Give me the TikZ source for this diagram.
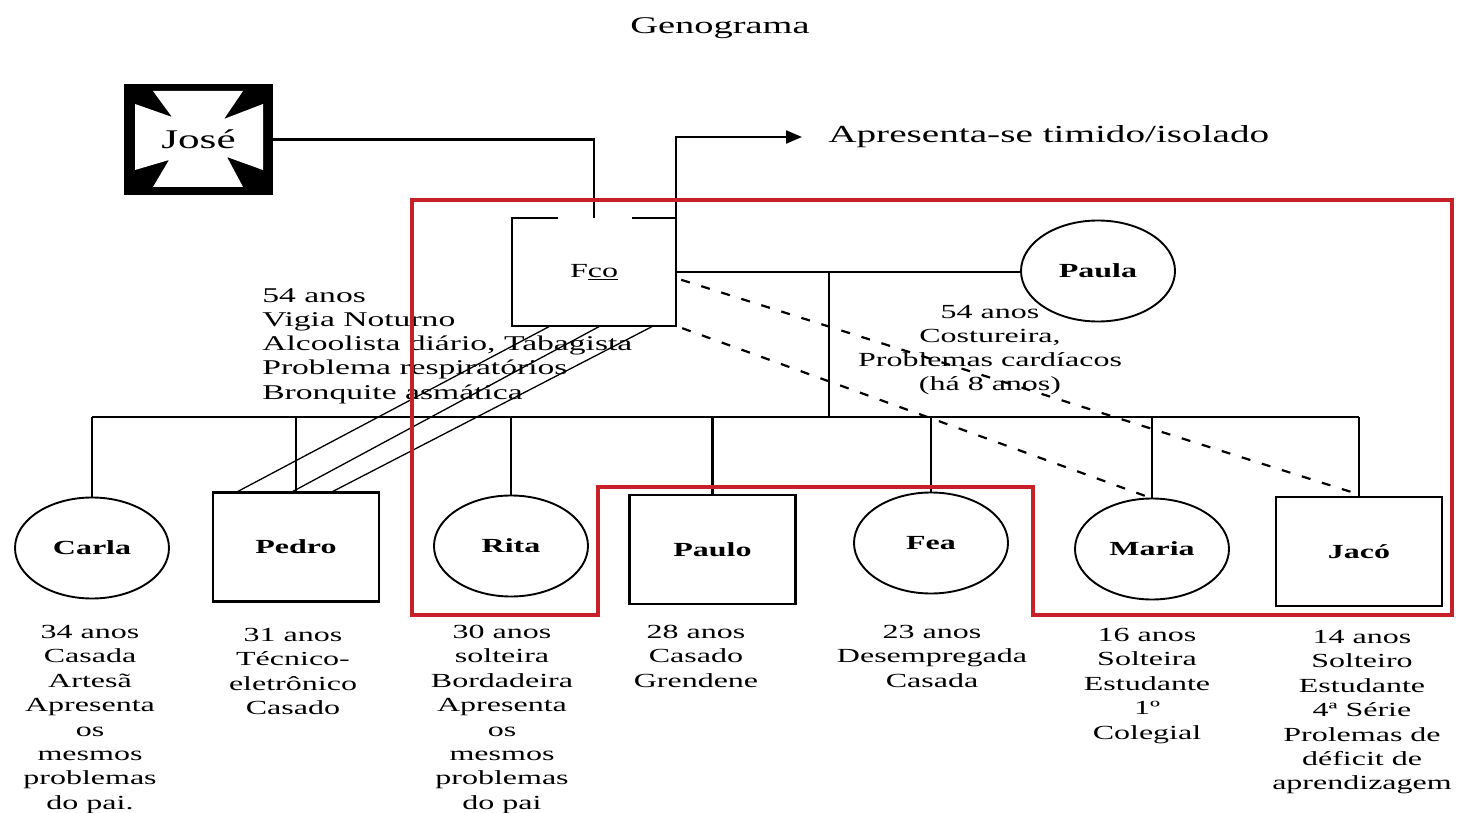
\documentclass[tikz,border=0pt]{standalone}
\usepackage{fontspec}
\setmainfont{Liberation Serif}
\usetikzlibrary{arrows.meta,calc,shapes.geometric}
\definecolor{framered}{RGB}{200,32,40}
\tikzset{
  x=1pt, y=-1pt,
  ln/.style={line width=2.2pt, black},
  thin link/.style={line width=1.3pt, black},
  distant/.style={line width=2.2pt, black, dash pattern=on 9pt off 12pt},
  fem/.style={ellipse, draw, line width=1.9pt, inner sep=0pt,
              minimum width=154pt, minimum height=101pt},
  male/.style={rectangle, draw, line width=2.2pt, inner sep=0pt,
               minimum width=166pt, minimum height=109pt},
  pname/.style={xscale=1.6, inner sep=0pt, font=\fontsize{20}{22}\bfseries\selectfont},
  info/.style={xscale=1.6, inner sep=0pt, align=center, anchor=north,
               font=\fontsize{20}{24.4}\selectfont},
  frame/.style={line width=3.4pt, framered, line join=miter}
}
\begin{document}
\begin{tikzpicture}
\useasboundingbox (0,0) rectangle (1457,813);

% title and note
\node[xscale=1.6, inner sep=0pt, font=\fontsize{24}{28}\selectfont] (title) at (720,28) {Genograma};
\node[xscale=1.6, inner sep=0pt, anchor=west, font=\fontsize{24.5}{28}\selectfont] (isol) at (828,137) {Apresenta-se timido/isolado};

% José (deceased grandfather)
\node[rectangle, fill=black, inner sep=0pt, minimum width=149pt, minimum height=111pt] (jose) at (198.5,139.5) {};
\fill[white] (153,91) -- (243,91) -- (224,119) -- (263,104) -- (263,170) -- (227,157)
  -- (243,187) -- (153,187) -- (169,160) -- (135,170) -- (135,104) -- (172,117) -- cycle;
\node[xscale=1.6, inner sep=0pt, font=\fontsize{27}{30}\selectfont] (josename) at (jose.center) {José};

% parents
\node[rectangle, inner sep=0pt, minimum width=164pt, minimum height=108pt] (fco) at (594,272) {};
\node[xscale=1.6, inner sep=0pt, font=\fontsize{20}{22}\selectfont] (fconame) at (594,272) {F\underline{co}};
\node[fem] (paula) at (1098,271) {};
\node[pname] (paulaname) at (paula.center) {Paula};

% parents' descriptions
\node[xscale=1.6, inner sep=0pt, anchor=north west, align=left,
      font=\fontsize{21}{24.3}\selectfont] (fcoinfo) at (262,288)
  {54 anos\\Vigia Noturno\\Alcoolista diário, Tabagista\\Problema respiratórios\\Bronquite asmática};
\node[info, font=\fontsize{20}{24}\selectfont] (paulainfo) at (990,305)
  {54 anos\\Costureira,\\Problemas cardíacos\\(há 8 anos)};

% children
\node[fem]  (carla) at (92,548) {};
\node[male] (pedro) at (296,547) {};
\node[fem]  (rita)  at (511,546) {};
\node[male] (paulo) at (712.5,549.5) {};
\node[fem]  (fea)   at (931,543) {};
\node[fem]  (maria) at (1152,549) {};
\node[male] (jaco)  at (1359,551.5) {};

\node[pname] (carlaname) at (carla.center) {Carla};
\node[pname] (pedroname) at (pedro.center) {Pedro};
\node[pname] (ritaname)  at (rita.center)  {Rita};
\node[pname] (pauloname) at (paulo.center) {Paulo};
\node[pname] (feaname)   at (fea.center)   {Fea};
\node[pname] (marianame) at (maria.center) {Maria};
\node[pname] (jaconame)  at (jaco.center)  {Jacó};

% children's descriptions
\node[info] (carlainfo) at (90,625)
  {34 anos\\Casada\\Artesã\\Apresenta\\os\\mesmos\\problemas\\do pai.};
\node[info] (pedroinfo) at (293,628)
  {31 anos\\Técnico-\\eletrônico\\Casado};
\node[info] (ritainfo) at (502,625)
  {30 anos\\solteira\\Bordadeira\\Apresenta\\os\\mesmos\\problemas\\do pai};
\node[info] (pauloinfo) at (696,625)
  {28 anos\\Casado\\Grendene};
\node[info] (feainfo) at (932,625)
  {23 anos\\Desempregada\\Casada};
\node[info] (mariainfo) at (1147,628)
  {16 anos\\Solteira\\Estudante\\1º\\Colegial};
\node[info] (jacoinfo) at (1362,630)
  {14 anos\\Solteiro\\Estudante\\4ª Série\\Prolemas de\\déficit de\\aprendizagem};

% Fco's box, open at the top where José's line comes in
\draw[ln] ($(fco.north west)+(46,0)$) -- (fco.north west) -- (fco.south west)
  -- (fco.south east) -- (fco.north east) -- ++(-44,0);

% descent from José
\draw[ln] (jose.east) -| (fco.north);

% note arrow
\coordinate (tip) at (802,137);
\draw[ln, -{Triangle[length=16pt,width=13pt]}] (fco.north east) |- (tip);

% marriage and sibling lines
\draw[ln] (fco.east) -- (fco.east -| paula.west);
\coordinate (mid) at (829,272);
\coordinate (sib) at (829,417);
\draw[ln] (mid) -- (sib);
\draw[ln] (carla.north |- sib) -- (jaco.north |- sib);
\foreach \c in {carla,pedro,rita,paulo,fea,maria,jaco}
  \draw[ln] (\c.north |- sib) -- (\c.north);

% close relationship lines Fco -- Pedro
\draw[thin link] ($(fco.south west)+(38,0)$) -- ($(pedro.north west)+(26,0)$);
\draw[thin link] ($(fco.south west)+(88,0)$) -- ($(pedro.north west)+(81,0)$);
\draw[thin link] ($(fco.south west)+(141,0)$) -- ($(pedro.north west)+(121,0)$);

% distant relationship lines Fco -- Maria, Jacó
\draw[distant] ($(fco.north east)+(5,62)$) -- ($(jaco.north)+(-8,-4)$);
\draw[distant] ($(fco.south east)+(6,2)$) -- ($(maria.north)+(-5,-1)$);

% household boundary
\draw[frame] (412,200) -- (1452,200) -- (1452,615) -- (1033,615) -- (1033,487)
  -- (598,487) -- (598,615) -- (412,615) -- cycle;
\end{tikzpicture}
\end{document}
